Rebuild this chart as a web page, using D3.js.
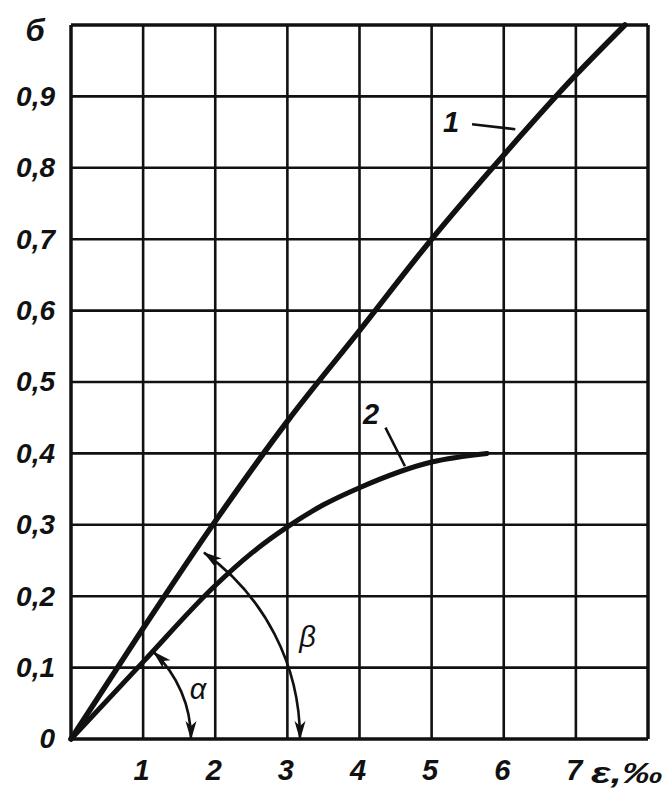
<!DOCTYPE html>
<html>
<head>
<meta charset="utf-8">
<script src="https://cdn.jsdelivr.net/npm/d3@7"></script>
<style>
  html, body { margin: 0; padding: 0; background: #fff; }
  svg { display: block; }
  text { font-family: "Liberation Sans", Arial, sans-serif; font-style: italic; fill: #111; }
</style>
</head>
<body>
<svg id="chart" width="669" height="794"></svg>
<script>
// ---- data ----
const xTicks = [0, 1, 2, 3, 4, 5, 6, 7, 8];
const xTickLabels = [1, 2, 3, 4, 5, 6, 7];
const yTicks = [0, 0.1, 0.2, 0.3, 0.4, 0.5, 0.6, 0.7, 0.8, 0.9, 1.0];
const yTickLabels = [0, 0.1, 0.2, 0.3, 0.4, 0.5, 0.6, 0.7, 0.8, 0.9];
const yAxisTitle = "б";
const xAxisTitle = "ε,‰";

// curve 1 (strain ε in ‰, stress σ)
const curve1X = [0, 1, 2, 3, 4, 5, 6, 7, 7.68];
const curve1Y = [0, 0.155, 0.305, 0.445, 0.572, 0.70, 0.818, 0.93, 1.0];
// curve 2
const curve2X = [0, 1, 2, 2.5, 3, 3.5, 4, 5, 5.77];
const curve2Y = [0, 0.108, 0.215, 0.26, 0.297, 0.328, 0.352, 0.388, 0.40];

// curve labels and leader lines
const curveLabels = ["1", "2"];
const labelPos = [[5.27, 0.865], [4.16, 0.456]];
const leaders = [[5.56, 0.861, 6.16, 0.854], [4.36, 0.436, 4.63, 0.382]];

// angle markers: name, angle in degrees, radius in px
const angleNames = ["α", "β"];
const angleDeg = [46.5, 54.5];
const angleRadius = [120, 229];
const angleLabelPos = [[1.76, 0.07], [3.28, 0.143]];

// ---- layout ----
const svg = d3.select("#chart");
const x = d3.scaleLinear().domain([0, 8]).range([71, 648]);
const y = d3.scaleLinear().domain([0, 1]).range([739, 25]);
const ink = "#111";

// grid
svg.append("g").selectAll("line").data(xTicks).join("line")
  .attr("x1", d => x(d)).attr("x2", d => x(d))
  .attr("y1", y(0)).attr("y2", y(1))
  .attr("stroke", ink).attr("stroke-width", d => (d === 0 || d === 8) ? 3.5 : 2.6);
svg.append("g").selectAll("line").data(yTicks).join("line")
  .attr("x1", x(0)).attr("x2", x(8))
  .attr("y1", d => y(d)).attr("y2", d => y(d))
  .attr("stroke", ink).attr("stroke-width", d => (d === 0 || d === 1) ? 3.5 : 2.6);

// axes (labels only)
const fmt = d => d === 0 ? "0" : d3.format(".1f")(d).replace(".", ",");
const yAxis = svg.append("g").attr("transform", `translate(${x(0)},0)`)
  .call(d3.axisLeft(y).tickValues(yTickLabels).tickSize(0).tickPadding(16).tickFormat(fmt));
yAxis.select(".domain").remove();
yAxis.selectAll("text").attr("font-size", 28).attr("font-weight", "bold")
  .style("font-family", '"Liberation Sans", Arial, sans-serif').style("font-style", "italic").attr("fill", ink);

const xAxis = svg.append("g").attr("transform", `translate(0,${y(0)})`)
  .call(d3.axisBottom(x).tickValues(xTickLabels).tickSize(0).tickPadding(20).tickFormat(d3.format("d")));
xAxis.select(".domain").remove();
xAxis.selectAll("text").attr("font-size", 29).attr("font-weight", "bold").attr("dx", -2)
  .style("font-family", '"Liberation Sans", Arial, sans-serif').style("font-style", "italic").attr("fill", ink);

// axis titles
svg.append("text").attr("x", 35).attr("y", y(1) + 16).attr("text-anchor", "middle")
  .attr("font-size", 31).attr("font-weight", "bold").text(yAxisTitle);
svg.append("text").attr("x", 591).attr("y", y(0) + 44)
  .attr("font-size", 29).attr("font-weight", "bold")
  .attr("textLength", 72).attr("lengthAdjust", "spacingAndGlyphs").text(xAxisTitle);

// curves
const line = d3.line().x(d => x(d[0])).y(d => y(d[1])).curve(d3.curveMonotoneX);
const c1 = curve1X.map((v, i) => [v, curve1Y[i]]);
const c2 = curve2X.map((v, i) => [v, curve2Y[i]]);
svg.append("path").attr("d", line(c1)).attr("fill", "none").attr("stroke", ink)
  .attr("stroke-width", 5.5).attr("stroke-linecap", "round");
svg.append("path").attr("d", line(c2)).attr("fill", "none").attr("stroke", ink)
  .attr("stroke-width", 5).attr("stroke-linecap", "round");

// curve labels + leaders
curveLabels.forEach((t, i) => {
  svg.append("text").attr("x", x(labelPos[i][0])).attr("y", y(labelPos[i][1]))
    .attr("text-anchor", "middle").attr("dy", "0.36em")
    .attr("font-size", 29).attr("font-weight", "bold").text(t);
  const L = leaders[i];
  svg.append("line").attr("x1", x(L[0])).attr("y1", y(L[1])).attr("x2", x(L[2])).attr("y2", y(L[3]))
    .attr("stroke", ink).attr("stroke-width", 2.6);
});

// arrow marker
const defs = svg.append("defs");
defs.append("marker").attr("id", "arr")
  .attr("markerUnits", "userSpaceOnUse").attr("markerWidth", 24).attr("markerHeight", 16)
  .attr("viewBox", "-20 -8 24 16").attr("refX", 0).attr("refY", 0)
  .attr("orient", "auto-start-reverse")
  .append("path").attr("d", "M1,0 L-18,-5.5 L-13,0 L-18,5.5 Z").attr("fill", ink);

// angle arcs
angleNames.forEach((n, i) => {
  const p = d3.path();
  const th = angleDeg[i] * Math.PI / 180;
  p.arc(x(0), y(0), angleRadius[i], -th, -0.0001, false);
  svg.append("path").attr("d", p.toString()).attr("fill", "none").attr("stroke", ink)
    .attr("stroke-width", 2.6).attr("marker-start", "url(#arr)").attr("marker-end", "url(#arr)");
  svg.append("text").attr("x", x(angleLabelPos[i][0])).attr("y", y(angleLabelPos[i][1]))
    .attr("text-anchor", "middle").attr("dy", "0.36em")
    .attr("font-size", 29).text(n);
});
</script>
</body>
</html>
